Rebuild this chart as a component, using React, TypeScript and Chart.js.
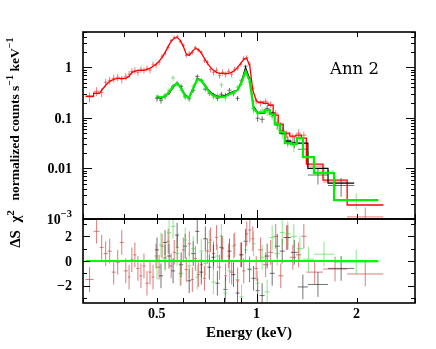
import React, { useEffect, useRef } from "react";
import { Chart, registerables } from "chart.js";

Chart.register(...registerables);

// ---------------- DATA ----------------
// Red spectrum: energy bin edges (keV), flux, relative error (%), model, residual
const redEdges = [0.3054, 0.3229, 0.3367, 0.3462, 0.356, 0.3661, 0.3764, 0.3871, 0.3981, 0.4094, 0.4166,
  0.4254, 0.4345, 0.4437, 0.4531, 0.4627, 0.4725, 0.4825, 0.4927, 0.5032, 0.5138,
  0.5247, 0.5359, 0.5472, 0.5588, 0.5707, 0.5828, 0.5951, 0.6077, 0.6206, 0.6338,
  0.6472, 0.6609, 0.6749, 0.6892, 0.7038, 0.7187, 0.734, 0.7495, 0.7654, 0.7816,
  0.7982, 0.8151, 0.8324, 0.85, 0.868, 0.8864, 0.9052, 0.9244, 0.944, 0.964, 0.9844,
  1.0105, 1.0464, 1.0835, 1.122, 1.1619, 1.2031, 1.2589, 1.3131, 1.3637, 1.4125, 1.5849, 1.8738, 2.4089];
const redFlux = [0.26, 0.336, 0.321, 0.506, 0.554, 0.607, 0.635, 0.58, 0.664, 0.727,
  0.834, 0.872, 0.797, 0.913, 0.872, 0.956, 0.872, 1.15, 1.1, 1.25,
  1.65, 1.89, 2.48, 3.41, 3.91, 4.09, 3.26, 2.72, 1.72, 1.89,
  1.98, 2.48, 2.17, 1.98, 1.37, 1.25, 0.913, 0.797, 0.872, 0.695,
  0.797, 0.727, 0.834, 0.727, 0.913, 0.956, 1.15, 1.51, 1.58, 1.15,
  0.385, 0.213, 0.195, 0.213, 0.186, 0.124, 0.0717, 0.0476, 0.0416, 0.0498,
  0.0455, 0.0111, 0.00538, 0.0011];
const redErrPct = [22, 20, 20, 18, 18, 18, 17, 17, 16, 16,
  15, 15, 14, 14, 14, 14, 13, 13, 13, 12, 11, 10, 9, 8, 8, 8, 8, 9, 10, 10,
  10, 9, 9, 10, 11, 12, 13, 13, 14, 14, 14, 14, 13, 13, 12, 11, 10, 10, 10, 11, 12,
  14, 14, 14, 15, 15, 16, 17, 18, 18, 18, 24, 30, 55];
const redModel = [0.268, 0.307, 0.352, 0.441, 0.529, 0.58, 0.607, 0.607, 0.607, 0.664,
  0.797, 0.834, 0.872, 0.872, 0.872, 0.913, 0.956, 1.05, 1.15, 1.31,
  1.58, 1.98, 2.6, 3.26, 3.74, 3.91, 3.41, 2.6, 1.81, 1.72,
  2.07, 2.37, 2.27, 1.89, 1.51, 1.2, 1.0, 0.872, 0.797, 0.761,
  0.761, 0.761, 0.761, 0.797, 0.872, 1.0, 1.2, 1.44, 1.51, 1.05,
  0.352, 0.223, 0.204, 0.195, 0.178, 0.113, 0.075, 0.0498, 0.0435, 0.0455,
  0.0397, 0.0122, 0.00589, 0.00189];
const redResid = [-1.5, 2.4, 1.1, 0.6, 0.8, -0.9, -0.1, 1.5, -0.8, -1.3,
  0.1, 0.5, -0.6, -1.2, -0.4, -1.8, -0.9, -1.3, 0.4, -0.5,
  1.2, 0.3, 1.6, -0.4, 0.7, 1.1, -1.0, 0.9, -0.7, 1.4,
  -1.5, 0.2, -1.1, -0.3, -1.4, 0.8, 1.7, 0.6, 1.9, -0.5,
  1.0, -1.2, 0.4, -0.9, 1.3, -1.6, 0.5, -0.8, 2.2, 2.5,
  1.8, -0.6, 0.9, -0.3, 0.7, 2.0, -1.2, 1.9, 0.3, 0.5,
  2.0, -0.9, -0.65, -1.05];

// Black spectrum
const blackEdges = [0.4943, 0.5082, 0.5226, 0.5374, 0.5527, 0.5683, 0.5844, 0.601, 0.618, 0.6353,
  0.6535, 0.672, 0.691, 0.7106, 0.7307, 0.7514, 0.7727, 0.7943, 0.8168, 0.8402,
  0.8638, 0.8883, 0.9135, 0.9391, 0.9656, 0.9931, 1.0212, 1.0574, 1.095, 1.1337,
  1.1741, 1.2155, 1.2677, 1.3309, 1.4272, 1.6412, 1.9677];
const blackFlux = [0.244, 0.223, 0.268, 0.321, 0.422, 0.483, 0.422, 0.268, 0.244, 0.352,
  0.664, 0.554, 0.368, 0.307, 0.28, 0.244, 0.293, 0.28, 0.352, 0.307,
  0.244, 0.554, 1.05, 0.607, 0.155, 0.0986, 0.094, 0.155, 0.118, 0.0717,
  0.0571, 0.0362, 0.033, 0.024, 0.0074, 0.0046];
const blackErrPct = [14, 14, 13, 12, 10, 10, 10, 12, 12, 11, 9, 9, 10, 11, 12, 12, 12, 12, 11, 11,
  11, 9, 7, 9, 14, 15, 15, 14, 15, 18, 20, 22, 24, 28, 35, 40];
const blackModel = [0.256, 0.244, 0.268, 0.307, 0.403, 0.483, 0.403, 0.28, 0.256, 0.368,
  0.607, 0.554, 0.441, 0.336, 0.293, 0.268, 0.268, 0.28, 0.307, 0.336,
  0.352, 0.529, 1.0, 0.607, 0.17, 0.129, 0.124, 0.142, 0.124, 0.075,
  0.0498, 0.0346, 0.0316, 0.0316, 0.01, 0.00514];
const blackResid = [0.9, -1.2, 1.5, 0.4, -0.8, 2.1, -0.3, 1.2, -1.6, 0.6,
  2.4, -0.9, 1.8, -0.5, 0.3, -1.8, 1.1, -2.3, 0.8, -1.1,
  -2.6, 0.5, 1.6, -0.7, -1.4, -2.4, -2.8, 0.4, -1.0, 1.2,
  0.8, 1.9, 0.7, -2.1, -1.9, -0.6];

// Green spectrum
const greenEdges = [0.4943, 0.5082, 0.5226, 0.5374, 0.5527, 0.5683, 0.5844, 0.601, 0.618, 0.6353,
  0.6535, 0.672, 0.691, 0.7106, 0.7307, 0.7514, 0.7727, 0.7943, 0.8168, 0.8402,
  0.8638, 0.8883, 0.9135, 0.9391, 0.9656, 0.9931, 1.0212, 1.0574, 1.095, 1.1337,
  1.1741, 1.2155, 1.2677, 1.3222, 1.3787, 1.4883, 1.7113, 2.3263];
const greenFlux = [0.256, 0.234, 0.28, 0.352, 0.62, 0.462, 0.352, 0.256, 0.234, 0.422,
  0.554, 0.529, 0.385, 0.336, 0.256, 0.28, 0.45, 0.244, 0.321, 0.293,
  0.403, 0.462, 0.797, 0.506, 0.142, 0.118, 0.142, 0.129, 0.108, 0.0821,
  0.0476, 0.0331, 0.0276, 0.0416, 0.0167, 0.00886, 0.00237];
const greenErrPct = [14, 14, 13, 12, 12, 10, 11, 13, 13, 11, 9, 9, 10, 11, 12, 13, 13, 13, 12, 11,
  11, 9, 7, 9, 14, 15, 15, 14, 15, 18, 20, 22, 24, 25, 30, 35, 35];
const greenModel = [0.268, 0.256, 0.268, 0.321, 0.422, 0.483, 0.385, 0.268, 0.256, 0.385,
  0.58, 0.554, 0.422, 0.321, 0.28, 0.256, 0.256, 0.268, 0.293, 0.321,
  0.352, 0.506, 0.834, 0.554, 0.155, 0.124, 0.129, 0.142, 0.118, 0.075,
  0.0521, 0.0316, 0.0302, 0.0397, 0.0167, 0.00809, 0.00237];
const greenResid = [-0.5, 1.3, 0.2, 2.3, 2.8, 0.6, -1.0, 1.7, -0.4, 1.0,
  -1.3, 0.8, -0.2, 1.5, -1.7, 0.4, 2.0, -2.6, -0.8, 1.2,
  -1.5, -2.9, 0.9, -0.6, 1.4, -1.8, 0.3, -2.5, 1.9, 0.6,
  2.3, 2.2, 2.0, 1.0, 0.15, 0.55, -0.1];

// Axes
const xRange = [0.3, 3];
const fluxRange = [0.001, 5];
const residRange = [-3.4, 3.4];
const xTickValues = [0.3, 0.4, 0.5, 0.6, 0.7, 0.8, 0.9, 1, 2, 3];
const xMajorTicks = [1];
const xLabelValues = [0.5, 1, 2];
const xTickLabels = ["0.5", "1", "2"];
const fluxDecades = [0.001, 0.01, 0.1, 1];
const fluxMinorMult = [2, 3, 4, 5, 6, 7, 8, 9];
const fluxTickLabels = ["10", "0.01", "0.1", "1"];
const residTicks = [-3, -2, -1, 0, 1, 2, 3];
const residTickLabels = ["−2", "0", "2"];
const residLabelValues = [-2, 0, 2];
const panelLabel = "Ann 2";

// ---------------- HELPERS ----------------
const SERIF = '"Liberation Serif", "Times New Roman", serif';

function crossPoints(edges: number[], vals: number[], err: number[] | number, relative: boolean) {
  const pts: any[] = [];
  for (let i = 0; i < vals.length; i++) {
    const lo = edges[i], hi = edges[i + 1], c = Math.sqrt(lo * hi), v = vals[i];
    const e = Array.isArray(err) ? (relative ? (v * err[i]) / 100 : err[i]) : err;
    pts.push({ x: lo, y: v }, { x: hi, y: v }, { x: c, y: null },
      { x: c, y: v - e }, { x: c, y: v + e }, { x: c, y: null });
  }
  return pts;
}
// Model histogram: narrow bins are drawn through their centres (they look smooth),
// wide bins as flat steps.
function modelPoints(edges: number[], vals: number[]) {
  const pts: any[] = [];
  for (let i = 0; i < vals.length; i++) {
    const lo = edges[i], hi = edges[i + 1];
    if (hi / lo < 1.03) pts.push({ x: Math.sqrt(lo * hi), y: vals[i] });
    else pts.push({ x: lo, y: vals[i] }, { x: hi, y: vals[i] });
  }
  return pts;
}
function lineDs(data: any[], color: string, width: number, order: number) {
  return {
    data, borderColor: color, backgroundColor: color, borderWidth: width,
    pointRadius: 0, pointHoverRadius: 0, tension: 0, spanGaps: false, fill: false, order,
  };
}
function seg(ctx: CanvasRenderingContext2D, x1: number, y1: number, x2: number, y2: number) {
  ctx.beginPath(); ctx.moveTo(x1, y1); ctx.lineTo(x2, y2); ctx.stroke();
}
function drawXTicks(chart: any) {
  const { ctx, chartArea: a } = chart;
  const x = chart.scales.x;
  ctx.lineWidth = 1;
  for (const v of xTickValues) {
    const px = Math.round(x.getPixelForValue(v)) + 0.5;
    const len = xMajorTicks.includes(v) ? 9 : 5;
    seg(ctx, px, a.top, px, a.top + len);
    seg(ctx, px, a.bottom, px, a.bottom - len);
  }
}
function drawParts(ctx: CanvasRenderingContext2D, parts: { t: string; sup?: boolean }[], font: string, supFont: string, rise: number, align: "center" | "right") {
  let total = 0;
  const widths: number[] = [];
  for (const p of parts) {
    ctx.font = p.sup ? supFont : font;
    const w = ctx.measureText(p.t).width;
    widths.push(w); total += w;
  }
  let x = align === "center" ? -total / 2 : -total;
  ctx.textAlign = "left";
  parts.forEach((p, i) => {
    ctx.font = p.sup ? supFont : font;
    ctx.fillText(p.t, x, p.sup ? -rise : 0);
    x += widths[i];
  });
}

const upperAxes = {
  id: "upperAxes",
  afterDraw(chart: any) {
    const { ctx, chartArea: a } = chart;
    const y = chart.scales.y;
    ctx.save();
    ctx.strokeStyle = "#000";
    ctx.fillStyle = "#000";
    drawXTicks(chart);
    for (const d of fluxDecades) {
      const py = Math.round(y.getPixelForValue(d)) + 0.5;
      seg(ctx, a.left, py, a.left + 9, py);
      seg(ctx, a.right, py, a.right - 9, py);
      for (const m of fluxMinorMult) {
        const v = d * m;
        if (v > fluxRange[1] * 1.001) continue;
        const pm = Math.round(y.getPixelForValue(v)) + 0.5;
        seg(ctx, a.left, pm, a.left + 4, pm);
        seg(ctx, a.right, pm, a.right - 4, pm);
      }
    }
    ctx.lineWidth = 1.6;
    ctx.strokeRect(a.left, a.top, a.right - a.left, a.bottom - a.top);
    ctx.textBaseline = "middle";
    fluxDecades.forEach((d, i) => {
      const py = y.getPixelForValue(d);
      ctx.save();
      ctx.translate(72, py + 1);
      const parts = d === 0.001 ? [{ t: fluxTickLabels[i] }, { t: "−3", sup: true }] : [{ t: fluxTickLabels[i] }];
      drawParts(ctx, parts, `bold 14px ${SERIF}`, `bold 10.5px ${SERIF}`, 6, "right");
      ctx.restore();
    });
    ctx.save();
    ctx.translate(19, 119);
    ctx.rotate(-Math.PI / 2);
    ctx.textBaseline = "alphabetic";
    drawParts(ctx, [{ t: "normalized counts s" }, { t: "−1", sup: true }, { t: " keV" }, { t: "−1", sup: true }],
      `bold 13.5px ${SERIF}`, `bold 10px ${SERIF}`, 6, "center");
    ctx.restore();
    ctx.font = '16.5px "DejaVu Serif", serif';
    ctx.textAlign = "left";
    ctx.textBaseline = "alphabetic";
    ctx.fillText(panelLabel, 330, 74);
    ctx.restore();
  },
};

const lowerAxes = {
  id: "lowerAxes",
  afterDraw(chart: any) {
    const { ctx, chartArea: a } = chart;
    const x = chart.scales.x;
    const y = chart.scales.y;
    ctx.save();
    ctx.strokeStyle = "#000";
    ctx.fillStyle = "#000";
    drawXTicks(chart);
    for (const v of residTicks) {
      const py = Math.round(y.getPixelForValue(v)) + 0.5;
      const len = v % 2 === 0 ? 7 : 4;
      seg(ctx, a.left, py, a.left + len, py);
      seg(ctx, a.right, py, a.right - len, py);
    }
    ctx.lineWidth = 1.6;
    ctx.strokeRect(a.left, a.top, a.right - a.left, a.bottom - a.top);
    ctx.font = `bold 14px ${SERIF}`;
    ctx.textBaseline = "middle";
    ctx.textAlign = "right";
    residLabelValues.forEach((v, i) => {
      ctx.fillText(residTickLabels[i], 72, y.getPixelForValue(v) + 1);
    });
    ctx.textAlign = "center";
    xLabelValues.forEach((v, i) => ctx.fillText(xTickLabels[i], x.getPixelForValue(v), 314));
    ctx.font = `bold 15px ${SERIF}`;
    ctx.fillText("Energy (keV)", (a.left + a.right) / 2, 333);
    ctx.save();
    ctx.translate(20, 229);
    ctx.rotate(-Math.PI / 2);
    ctx.textBaseline = "alphabetic";
    drawParts(ctx, [{ t: "ΔS  χ" }, { t: "2", sup: true }], `bold 15px ${SERIF}`, `bold 11px ${SERIF}`, 6, "center");
    ctx.restore();
    ctx.restore();
  },
};

const RED_D = "rgba(228,70,70,0.7)";
const BLACK_D = "rgba(40,40,40,0.65)";
const GREEN_D = "rgba(60,215,60,0.6)";

export default function App() {
  const upRef = useRef<HTMLCanvasElement>(null);
  const loRef = useRef<HTMLCanvasElement>(null);

  useEffect(() => {
    document.body.style.margin = "0";
    const xScale = { type: "logarithmic", min: xRange[0], max: xRange[1], display: false };
    const common = {
      responsive: false, animation: false, events: [],
      plugins: { legend: { display: false }, tooltip: { enabled: false }, title: { display: false } },
    };
    const up = new Chart(upRef.current!, {
      type: "line",
      data: {
        datasets: [
          lineDs(crossPoints(redEdges, redFlux, redErrPct, true), RED_D, 1, 5),
          lineDs(crossPoints(blackEdges, blackFlux, blackErrPct, true), BLACK_D, 1, 4),
          lineDs(crossPoints(greenEdges, greenFlux, greenErrPct, true), GREEN_D, 1, 3),
          lineDs(modelPoints(redEdges, redModel), "#ff0000", 1.3, 2),
          lineDs(modelPoints(blackEdges, blackModel), "#000000", 1.2, 1),
          lineDs(modelPoints(greenEdges, greenModel), "#00ee00", 2.2, 0),
        ] as any,
      },
      options: {
        ...common,
        layout: { padding: { left: 83, right: 21, top: 32, bottom: 130 } },
        scales: {
          x: xScale,
          y: { type: "logarithmic", min: fluxRange[0], max: fluxRange[1], display: false },
        },
      } as any,
      plugins: [upperAxes],
    });
    const zeroLine = [{ x: redEdges[0], y: 0 }, { x: greenEdges[greenEdges.length - 1], y: 0 }];
    const lo = new Chart(loRef.current!, {
      type: "line",
      data: {
        datasets: [
          lineDs(crossPoints(redEdges, redResid, 1, false), "rgba(210,80,80,0.75)", 1, 3),
          lineDs(crossPoints(blackEdges, blackResid, 1, false), BLACK_D, 1, 2),
          lineDs(crossPoints(greenEdges, greenResid, 1, false), GREEN_D, 1, 1),
          lineDs(zeroLine, "#00ff00", 2, 0),
        ] as any,
      },
      options: {
        ...common,
        layout: { padding: { left: 83, right: 21, top: 219, bottom: 46 } },
        scales: {
          x: xScale,
          y: { type: "linear", min: residRange[0], max: residRange[1], display: false },
        },
      } as any,
      plugins: [lowerAxes],
    });
    return () => { up.destroy(); lo.destroy(); };
  }, []);

  const cs: React.CSSProperties = { position: "absolute", left: 0, top: 0, width: 436, height: 349, display: "block" };
  return (
    <div style={{ position: "fixed", left: 0, top: 0, width: 436, height: 349, background: "#fff" }}>
      <canvas ref={upRef} width={436} height={349} style={cs} />
      <canvas ref={loRef} width={436} height={349} style={cs} />
    </div>
  );
}
